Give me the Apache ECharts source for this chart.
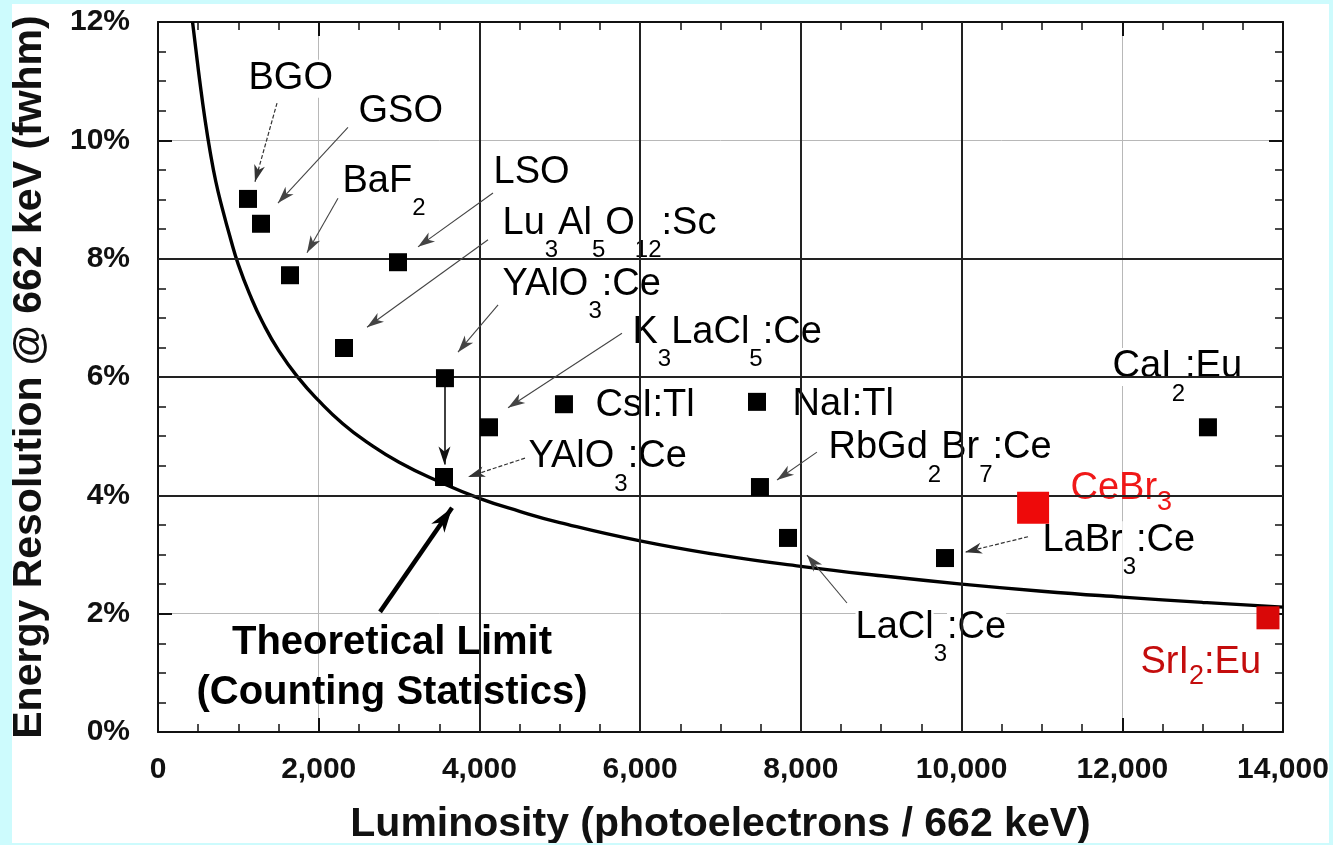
<!DOCTYPE html>
<html><head><meta charset="utf-8">
<script src="https://cdn.jsdelivr.net/npm/echarts@6/dist/echarts.min.js"></script>
<style>
html,body{margin:0;padding:0;background:#cdfbfd;width:1333px;height:845px;overflow:hidden}
#c{position:absolute;left:12px;top:4px;width:1317px;height:839px;background:#fff}
</style></head><body><div id="c"></div>
<script>
// ---- data ----
const materials = ['BGO','GSO','BaF2','LSO','Lu3Al5O12:Sc','YAlO3:Ce','YAlO3:Ce (improved)','K3LaCl5:Ce','CsI:Tl','NaI:Tl','RbGd2Br7:Ce','LaCl3:Ce','LaBr3:Ce','CaI2:Eu'];
const luminosity = [1120, 1282, 1643, 2987, 2315, 3571, 3559, 4119, 5052, 7454, 7491, 7840, 9794, 13066];
const resolution = [9.01, 8.59, 7.72, 7.94, 6.49, 5.98, 4.31, 5.15, 5.54, 5.58, 4.14, 3.28, 2.94, 5.15];

const newMaterials = ['CeBr3', 'SrI2:Eu'];
const newLuminosity = [10890, 13813];
const newResolution = [3.79, 1.93];

// theoretical limit (counting statistics) curve
const limitLum = [430,470,520,580,650,720,800,900,1000,1150,1300,1500,1750,2000,2300,2600,3000,3500,4000,4500,5000,6000,7000,8000,9000,10000,11000,12000,13000,14000];
const limitRes = [12.0,11.55,11.0,10.4,9.8,9.3,8.85,8.35,7.9,7.37,6.93,6.45,5.98,5.6,5.21,4.9,4.56,4.23,3.95,3.73,3.54,3.23,2.99,2.8,2.64,2.5,2.38,2.28,2.19,2.11];

const xTickLabels = ['0','2,000','4,000','6,000','8,000','10,000','12,000','14,000'];
const yTickLabels = ['0%','2%','4%','6%','8%','10%','12%'];

// annotation texts and anchor points (data units)
const labelText = ['{n|BGO}','{n|GSO}','{n|BaF}{s|2}','{n|LSO}','{n|Lu}{s|3}{n|Al}{s|5}{n|O}{s|12}{n|:Sc}','{n|YAlO}{s|3}{n|:Ce}','{n|K}{s|3}{n|LaCl}{s|5}{n|:Ce}','{n|CsI:Tl}','{n|NaI:Tl}','{n|YAlO}{s|3}{n|:Ce}','{n|RbGd}{s|2}{n|Br}{s|7}{n|:Ce}','{n|LaCl}{s|3}{n|:Ce}','{n|LaBr}{s|3}{n|:Ce}','{n|CaI}{s|2}{n|:Eu}','{r|CeBr}{rs|3}','{d|SrI}{ds|2}{d|:Eu}'];
const labelLum = [1120, 2489, 2290, 4169, 4281, 4281, 5899, 5438, 7890, 4604, 8338, 8674, 11000, 11872, 11349, 12220];
const labelRes = [11.04, 10.48, 9.31, 9.46, 8.60, 7.57, 6.76, 5.51, 5.53, 4.65, 4.80, 1.76, 3.24, 6.17, 4.12, 1.18];

const limitNote = '{t|Theoretical Limit}\n{t|(Counting Statistics)}';
const limitNoteAt = [2912, 1.08];

// annotation arrows: [fromLum, fromRes, toLum, toRes, kind]
const arrows = [
  [1481, 10.63, 1207, 9.30, 'dash'],
  [2364, 10.22, 1493, 8.94, 'thin'],
  [2240, 9.02, 1854, 8.10, 'thin'],
  [4169, 9.11, 3236, 8.20, 'thin'],
  [4107, 8.32, 2601, 6.84, 'thin'],
  [4232, 7.22, 3733, 6.42, 'thin'],
  [5774, 6.74, 4356, 5.48, 'thin'],
  [4567, 4.63, 3858, 4.31, 'dash'],
  [3565, 5.84, 3565, 4.52, 'solid'],
  [8200, 4.73, 7703, 4.26, 'thin'],
  [8574, 2.18, 8076, 2.99, 'thin'],
  [10827, 3.30, 10043, 3.04, 'dash'],
  [2763, 2.03, 3659, 3.79, 'bold']
];

const darkX = [4000, 6000, 8000, 10000];
const darkY = [4, 6, 8];

// ---- chart ----
const FONT = "'Liberation Sans', Arial, Helvetica, sans-serif";
const arrowHead = 'path://M0,-18L0,-18M0,0L6,18L0,13L-6,18Z';

const arrowData = arrows.map(a => {
  const k = a[4];
  const ls = k === 'dash' ? {color:'#333', width:1.2, type:[4,2]}
           : k === 'thin' ? {color:'#444', width:1.1, type:'solid'}
           : k === 'solid' ? {color:'#111', width:1.6, type:'solid'}
           : {color:'#000', width:4.5, type:'solid'};
  const size = k === 'bold' ? [16, 50] : (k === 'solid' ? [12, 36] : [11, 34]);
  return [
    {coord:[a[0], a[1]], lineStyle: ls, symbol:'none'},
    {coord:[a[2], a[3]], lineStyle: ls, symbol: arrowHead, symbolSize: size}
  ];
});

const chart = echarts.init(document.getElementById('c'), null, {renderer:'canvas'});
const axisCommon = {
  type:'value',
  axisLine:{show:true, onZero:false, lineStyle:{color:'#111', width:2}},
  axisTick:{show:true, inside:true, length:14, lineStyle:{color:'#111', width:2}},
  minorTick:{show:true, splitNumber:4, length:8, lineStyle:{color:'#111', width:1.5}},
};
chart.setOption({
  animation:false,
  textStyle:{fontFamily:FONT},
  grid:{left:146, top:18, right:46, bottom:111, containLabel:false, outerBoundsMode:'none'},
  xAxis:[
    Object.assign({}, axisCommon, {
      min:0, max:14000, interval:2000, position:'bottom',
      axisLabel:{margin:23, fontSize:30, fontWeight:'bold', color:'#111', fontFamily:FONT,
        formatter: v => xTickLabels[Math.round(v/2000)]},
      splitLine:{show:true, showMinLine:false, showMaxLine:false, lineStyle:{color:'#b8b8b8', width:1}},
      name:'Luminosity (photoelectrons / 662 keV)', nameLocation:'middle', nameGap:72,
      nameTextStyle:{fontSize:41, fontWeight:'bold', color:'#111', fontFamily:FONT}
    }),
    Object.assign({}, axisCommon, {
      min:0, max:14000, interval:2000, position:'top',
      axisLabel:{show:false}, splitLine:{show:false}
    })
  ],
  yAxis:[
    Object.assign({}, axisCommon, {
      min:0, max:12, interval:2, position:'left',
      axisLabel:{margin:28, fontSize:30, fontWeight:'bold', color:'#111', fontFamily:FONT,
        formatter: v => yTickLabels[Math.round(v/2)]},
      splitLine:{show:true, showMinLine:false, showMaxLine:false, lineStyle:{color:'#b8b8b8', width:1}},
      name:'Energy Resolution @ 662 keV (fwhm)', nameLocation:'middle', nameGap:108,
      nameTextStyle:{fontSize:41, fontWeight:'bold', color:'#111', fontFamily:FONT}
    }),
    Object.assign({}, axisCommon, {
      min:0, max:12, interval:2, position:'right',
      axisLabel:{show:false}, splitLine:{show:false}
    })
  ],
  series:[
    { // darker grid lines
      type:'line', data:[], z:1, silent:true, symbol:'none',
      markLine:{silent:true, symbol:['none','none'], label:{show:false},
        lineStyle:{color:'#222', width:2, type:'solid', opacity:1},
        data: darkX.map(v => ({xAxis:v})).concat(darkY.map(v => ({yAxis:v})))}
    },
    {
      name:'Theoretical Limit', type:'line', z:2, silent:true,
      data: limitLum.map((x,i) => [x, limitRes[i]]),
      showSymbol:false, smooth:0.5,
      lineStyle:{color:'#000', width:3.4, opacity:1}
    },
    { // labels
      type:'scatter', z:3, silent:true, symbolSize:1,
      itemStyle:{color:'rgba(0,0,0,0)', opacity:1},
      data: labelLum.map((x,i) => ({value:[x, labelRes[i]], label:{formatter: labelText[i]}})),
      label:{show:true, position:'right', distance:0, opacity:1,
        rich:{
          n:{fontSize:38, lineHeight:78, verticalAlign:'middle', color:'#000', backgroundColor:'#fff', fontFamily:FONT},
          s:{fontSize:24, lineHeight:24, verticalAlign:'bottom', color:'#000', backgroundColor:'#fff', fontFamily:FONT},
          r:{fontSize:38, lineHeight:55, verticalAlign:'middle', color:'#f01818', fontFamily:FONT},
          rs:{fontSize:27, lineHeight:27, verticalAlign:'bottom', color:'#f01818', fontFamily:FONT},
          d:{fontSize:38, lineHeight:55, verticalAlign:'middle', color:'#c40d0d', fontFamily:FONT},
          ds:{fontSize:27, lineHeight:27, verticalAlign:'bottom', color:'#c40d0d', fontFamily:FONT}
        }}
    },
    { // theoretical limit note
      type:'scatter', z:3, silent:true, symbolSize:1,
      itemStyle:{color:'rgba(0,0,0,0)', opacity:1},
      data:[{value: limitNoteAt}],
      label:{show:true, position:'inside', formatter: limitNote, opacity:1,
        rich:{t:{fontSize:40, fontWeight:'bold', lineHeight:50, color:'#000', align:'center', fontFamily:FONT}}}
    },
    { // arrows
      type:'line', data:[], z:4, silent:true, symbol:'none',
      markLine:{silent:true, label:{show:false}, symbol:['none', arrowHead], symbolSize:[11,34],
        data: arrowData}
    },
    {
      name:'Scintillators', type:'scatter', z:5, silent:true,
      data: luminosity.map((x,i) => ({name: materials[i], value:[x, resolution[i]]})),
      symbol:'rect', symbolSize:18, itemStyle:{color:'#000', opacity:1}
    },
    {
      name:'New', type:'scatter', z:5, silent:true,
      data: newLuminosity.map((x,i) => ({name: newMaterials[i], value:[x, newResolution[i]],
        symbolSize: i === 0 ? 32 : 23, itemStyle:{color: i === 0 ? '#ee0a0a' : '#d90808', opacity:1}})),
      symbol:'rect'
    }
  ]
});
</script></body></html>
